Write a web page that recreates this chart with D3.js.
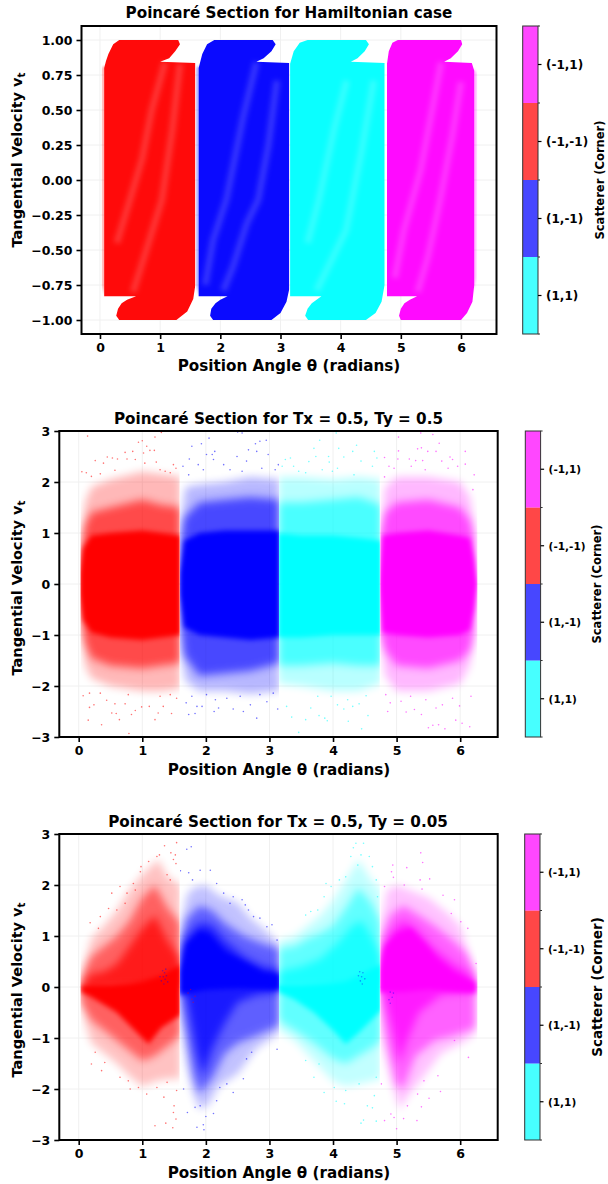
<!DOCTYPE html>
<html><head><meta charset="utf-8">
<script src="https://cdn.jsdelivr.net/npm/d3@7"></script>
<style>html,body{margin:0;padding:0;background:#fff}svg{display:block}text{font-family:"DejaVu Sans",sans-serif;font-weight:bold;fill:#000}</style>
</head><body><svg id="c" width="608" height="1184"></svg>
<script>
const corners = ["(1,1)","(1,-1)","(-1,-1)","(-1,1)"];
const cornerColors = ["#00ffff","#0000ff","#ff0000","#ff00ff"];
const seriesOrder = ["red","blue","cyan","magenta"];
const seriesColors = ["#ff0000","#0000ff","#00ffff","#ff00ff"];
const seriesRanges = [[.03,1.587],[1.595,3.15],[3.15,4.735],[4.745,6.27]];
const thetaTicks = [0,1,2,3,4,5,6];
const p1Ticks = [-1,-0.75,-0.5,-0.25,0,0.25,0.5,0.75,1];
const p23Ticks = [-3,-2,-1,0,1,2,3];

// Panel 1: region outlines [theta, v]
const p1Red = [[.07,.8],[.1,.85],[.14,.9],[.22,.97],[.32,1],[1.3,1],[1.33,.97],[1.25,.92],[1.15,.87],[1.0,.845],[1.585,.835],[1.585,-.75],[1.55,-.85],[1.45,-.94],[1.27,-1],[.32,-1],[.27,-.97],[.3,-.92],[.36,-.88],[.45,-.855],[.6,-.83],[.07,-.83]];
const p1Blue = [[1.64,.8],[1.67,.85],[1.7,.9],[1.78,.97],[1.9,1],[2.87,1],[2.92,.97],[2.85,.92],[2.72,.87],[2.6,.845],[3.145,.835],[3.145,-.78],[3.1,-.87],[3,-.95],[2.85,-1],[1.88,-1],[1.83,-.97],[1.85,-.92],[1.92,-.88],[2,-.855],[2.12,-.83],[1.64,-.83]];
const p1Cyan = [[3.16,.83],[3.22,.92],[3.32,.98],[3.45,1],[4.42,1],[4.47,.97],[4.4,.92],[4.28,.87],[4.17,.845],[4.73,.835],[4.73,-.75],[4.68,-.87],[4.58,-.95],[4.42,-1],[3.46,-1],[3.41,-.97],[3.45,-.92],[3.52,-.88],[3.6,-.855],[3.68,-.83],[3.16,-.83]];
const p1Magenta = [[4.77,.83],[4.8,.92],[4.86,.98],[4.95,1],[6,1],[6.02,.97],[5.95,.92],[5.83,.87],[5.72,.845],[6.18,.835],[6.22,.78],[6.22,-.75],[6.19,-.87],[6.1,-.95],[6,-1],[5,-1],[4.97,-.97],[5,-.92],[5.06,-.88],[5.15,-.855],[5.27,-.83],[4.77,-.83]];
const p1Fuzz = [
 [[.03,.8],[.08,.82],[.08,-.83],[.03,-.75]],
 [[1.6,.8],[1.65,.82],[1.65,-.83],[1.6,-.75]],
 [],
 [[6.21,.8],[6.26,.76],[6.25,-.7],[6.21,-.8]]];
const p1StreaksRed = [[[1.08,.84],[.86,.5],[.7,.15],[.5,-.14],[.28,-.45]],[[1.33,.83],[1.2,.35],[1.03,-.14],[.72,-.57],[.55,-.8]]];
const p1StreaksBlue = [[[2.6,.84],[2.38,.45],[2.1,-.14],[1.88,-.43],[1.75,-.75]],[[2.94,.71],[2.8,.25],[2.63,-.14],[2.44,-.31],[2.21,-.62],[2.05,-.79]]];
const p1StreaksCyan = [[[4.1,.71],[3.89,.36],[3.64,-.14],[3.45,-.45]],[[4.55,.71],[4.35,.21],[4.09,-.36],[3.77,-.64],[3.6,-.79]]];
const p1StreaksMagenta = [[[5.67,.84],[5.52,.5],[5.33,.07],[5.05,-.36],[4.9,-.7]],[[6.0,.7],[5.85,.3],[5.65,-.15],[5.45,-.55],[5.28,-.8]]];

// Panel 2: density regions, [sparse, middle, core]
const p2Red = [
 [[.03,.8],[.1,1.6],[.2,1.9],[.5,2.05],[1,2.2],[1.3,2.15],[1.6,2.1],[1.6,-2.05],[1.3,-2.1],[1,-2.1],[.5,-2],[.2,-1.85],[.1,-1.6],[.03,-.8]],
 [[.02,.5],[.1,1.15],[.2,1.4],[.5,1.5],[1,1.65],[1.3,1.55],[1.6,1.5],[1.6,-1.55],[1.3,-1.6],[1,-1.65],[.5,-1.6],[.2,-1.45],[.1,-1.15],[.02,-.5]],
 [[.02,.2],[.07,.7],[.2,.95],[.5,1],[1,1.05],[1.3,1],[1.6,.95],[1.6,-1],[1.3,-1.05],[1,-1.1],[.5,-1.05],[.2,-.95],[.07,-.7],[.02,-.2]]];
const p2Blue = [
 [[1.6,1.2],[1.68,1.9],[1.9,1.95],[2.3,2],[2.7,2.1],[3.16,2.05],[3.16,-2.1],[2.7,-2.15],[2.3,-2.1],[1.9,-2.1],[1.68,-1.9],[1.6,-1.3]],
 [[1.6,.8],[1.66,1.3],[1.9,1.6],[2.3,1.65],[2.7,1.7],[3.16,1.65],[3.16,-1.55],[2.7,-1.7],[2.3,-1.75],[1.9,-1.8],[1.66,-1.4],[1.6,-.8]],
 [[1.59,.2],[1.66,.85],[1.9,1],[2.3,1.05],[2.7,1.05],[3.16,1.05],[3.16,-1.05],[2.7,-1.1],[2.3,-1.05],[1.9,-1],[1.66,-.85],[1.59,-.2]]];
const p2Cyan = [
 [[3.14,2.1],[3.5,2.1],[4,2.05],[4.4,2.1],[4.76,2.05],[4.76,-1.95],[4.4,-2.1],[4,-2.1],[3.5,-2],[3.14,-1.95]],
 [[3.14,1.6],[3.5,1.6],[4,1.65],[4.4,1.7],[4.76,1.55],[4.76,-1.6],[4.4,-1.6],[4,-1.55],[3.5,-1.6],[3.14,-1.6]],
 [[3.14,1],[3.5,.95],[4,.95],[4.4,.9],[4.76,.85],[4.76,-1],[4.4,-1],[4,-1],[3.5,-1.05],[3.14,-1.05]]];
const p2Magenta = [
 [[4.74,1],[4.82,1.9],[5,2.1],[5.5,2.1],[6,2],[6.15,1.7],[6.22,1.2],[6.22,-1.1],[6.15,-1.6],[6,-1.95],[5.5,-2.1],[5,-2.1],[4.82,-1.8],[4.74,-1]],
 [[4.74,.9],[4.82,1.4],[5,1.6],[5.5,1.65],[6,1.5],[6.15,1.25],[6.22,.9],[6.22,-.9],[6.15,-1.3],[6,-1.5],[5.5,-1.65],[5,-1.6],[4.82,-1.3],[4.74,-.9]],
 [[4.73,.1],[4.78,.95],[5,1],[5.5,1.05],[6,.95],[6.15,.9],[6.22,.5],[6.27,0],[6.22,-.5],[6.15,-.9],[6,-1],[5.5,-1.05],[5,-1],[4.78,-.95],[4.73,-.1]]];

// Panel 3: density regions, [sparse, middle, dense, solid]
const p3Red = [
 [[.03,.1],[.1,.5],[.2,.95],[.4,1.2],[.6,1.5],[.8,1.9],[1,2.2],[1.25,2.5],[1.4,2.15],[1.6,2],[1.6,-1.8],[1.4,-1.8],[1.2,-1.85],[1,-1.95],[.8,-1.75],[.6,-1.5],[.4,-1.3],[.2,-1.1],[.1,-.7],[.03,-.1]],
 [[.03,.05],[.1,.35],[.2,.6],[.4,.8],[.6,1],[.8,1.3],[1,1.75],[1.2,2],[1.4,1.55],[1.6,1.25],[1.6,-.95],[1.4,-1.15],[1.2,-1.35],[1,-1.45],[.8,-1.25],[.6,-1.05],[.4,-.85],[.2,-.65],[.03,-.3]],
 [[.08,.1],[.2,.25],[.4,.3],[.6,.45],[.8,.8],[1,1.15],[1.2,1.4],[1.4,.9],[1.6,.55],[1.6,0],[.08,0]],
 [[.04,.02],[.2,.05],[.5,.05],[.8,.08],[1,.12],[1.3,.22],[1.6,.45],[1.6,-.55],[1.3,-.8],[1.1,-1.12],[1,-1],[.8,-.75],[.6,-.5],[.4,-.35],[.2,-.2],[.04,-.1]]];
const p3Blue = [
 [[1.6,1.2],[1.7,1.8],[1.8,1.95],[2,2],[2.2,1.8],[2.5,1.65],[2.7,1.35],[2.9,1.15],[3.16,.85],[3.16,-.9],[2.8,-1.2],[2.5,-1.7],[2.2,-1.95],[2.05,-2.3],[1.9,-2.4],[1.8,-2.1],[1.7,-1.5],[1.6,-.6]],
 [[1.6,.9],[1.7,1.35],[1.9,1.6],[2.1,1.5],[2.3,1.25],[2.6,1],[2.9,.85],[3.16,.75],[3.16,-.75],[2.8,-.95],[2.5,-1.1],[2.3,-1.3],[2.1,-1.8],[1.9,-2.1],[1.8,-1.75],[1.7,-1],[1.6,-.3]],
 [[1.6,.7],[1.7,1],[1.9,1.25],[2.1,1.2],[2.3,.9],[2.6,.6],[2.9,.4],[3.16,.35],[3.16,-.1],[2.8,-.15],[2.5,-.3],[2.3,-.7],[2.1,-1.2],[1.95,-1.75],[1.85,-1.25],[1.7,-.2],[1.6,-.1]],
 [[1.6,.3],[1.7,.85],[1.9,1.1],[2.05,1.05],[2.3,.7],[2.6,.5],[2.9,.3],[3.16,.25],[3.16,-.06],[2.5,-.03],[2,-.06],[1.6,-.15]]];
const p3Cyan = [
 [[3.14,.9],[3.4,1],[3.6,1.2],[3.8,1.4],[4,1.7],[4.2,2.1],[4.4,2.5],[4.6,2.1],[4.76,1.9],[4.76,-1.8],[4.6,-1.85],[4.4,-1.9],[4.2,-1.95],[4,-1.85],[3.7,-1.45],[3.4,-1.05],[3.14,-.85]],
 [[3.14,.75],[3.4,.8],[3.6,.95],[3.8,1.05],[4,1.2],[4.2,1.55],[4.4,1.95],[4.6,1.65],[4.76,1.25],[4.76,-1.05],[4.6,-1.2],[4.4,-1.35],[4.2,-1.5],[4,-1.4],[3.7,-1.1],[3.4,-.85],[3.14,-.65]],
 [[3.14,.3],[3.5,.4],[3.8,.55],[4.1,.9],[4.3,1.2],[4.45,1.3],[4.6,1],[4.76,.6],[4.76,0],[3.14,0]],
 [[3.14,.05],[3.5,.05],[3.9,.08],[4.2,.12],[4.4,.22],[4.76,.46],[4.76,-.45],[4.6,-.65],[4.4,-.9],[4.2,-1.12],[4,-.85],[3.7,-.5],[3.4,-.25],[3.14,-.1]]];
const p3Magenta = [
 [[4.74,1.2],[4.85,1.9],[5,2],[5.2,1.9],[5.5,1.75],[5.8,1.45],[6,1.2],[6.15,.6],[6.24,.3],[6.24,-.9],[6.1,-1.05],[5.7,-1.3],[5.4,-1.8],[5.2,-2.1],[5.05,-2.4],[4.9,-1.8],[4.74,-.9]],
 [[4.74,.9],[4.9,1.4],[5.1,1.6],[5.3,1.45],[5.6,1.2],[5.9,.9],[6.1,.65],[6.24,.25],[6.24,-.8],[5.9,-.95],[5.6,-1.05],[5.3,-1.35],[5.1,-2],[5,-1.9],[4.85,-1.1],[4.74,-.3]],
 [[4.74,.6],[4.9,1.05],[5.1,1.3],[5.3,1.15],[5.6,.75],[5.9,.45],[6.1,.3],[6.24,.12],[6.24,-.1],[5.7,-.15],[5.35,-.5],[5.15,-1.1],[5.05,-1.5],[4.95,-.9],[4.8,-.1],[4.74,-.1]],
 [[4.74,.3],[4.82,.8],[5,1.05],[5.22,1.15],[5.45,.85],[5.65,.55],[5.9,.3],[6.24,.08],[6.24,-.12],[6,-.1],[5.5,-.05],[5.1,-.1],[4.74,-.1]]];

// Individually read points, [theta, v]
const p2RedPts = [[.14,2.9],[.94,2.78],[1,2.81],[1.07,2.7],[1.2,2.88],[1.3,2.97],[.05,2.2],[.12,2.18],[.26,2.42],[.45,2.49],[.53,2.47],[.61,2.45],[.73,2.58],[.85,2.6],[.76,2.45],[.89,2.44],[1.02,2.57],[1.12,2.62],[1.19,2.62],[1.22,2.39],[1.04,2.37],[1.28,2.24],[1.36,2.21],[1.44,2.18],[1.49,2.34],[1.53,2.27],[.57,2.23],[.34,2.16],[.2,2.11],[.39,2.37],[.79,-2.93],[.15,-2.67],[.36,-2.76],[.64,-2.66],[1.2,-2.66],[.83,-2.56],[.52,-2.53],[.59,-2.54],[1.25,-2.53],[1.46,-2.54],[.17,-2.42],[.89,-2.48],[.99,-2.41],[1.11,-2.4],[.73,-2.35],[.57,-2.35],[1.33,-2.4],[.24,-2.37],[.07,-2.19],[.44,-2.28],[1.28,-2.2],[1.54,-2.24],[1.44,-2.17],[.17,-2.14],[.34,-2.14],[.78,-2.17]];
const p2BluePts = [[2.5,2.98],[2.57,2.96],[1.78,2.7],[1.93,2.75],[2.05,2.86],[2.14,2.6],[2.1,2.54],[2.01,2.54],[2.78,2.75],[2.85,2.8],[2.95,2.82],[2.67,2.63],[2.8,2.6],[2.98,2.54],[1.64,2.31],[1.74,2.45],[1.88,2.34],[2.28,2.34],[2.49,2.5],[2.64,2.41],[2.38,2.24],[2.88,2.27],[3.09,2.24],[3.14,2.34],[2.12,2.44],[1.96,2.24],[1.73,2.14],[2.57,2.21],[2.8,-2.63],[1.73,-2.56],[1.83,-2.54],[1.94,-2.4],[1.86,-2.4],[2.13,-2.5],[2.2,-2.43],[2.43,-2.45],[2.59,-2.5],[2.7,-2.37],[2.96,-2.31],[3.13,-2.45],[1.69,-2.33],[1.78,-2.2],[2.15,-2.27],[2.33,-2.24],[2.54,-2.2],[2.85,-2.17],[3.06,-2.14],[2.01,-2.17]];
const p2CyanPts = [[3.7,2.66],[3.79,2.82],[4.05,2.96],[4.09,2.66],[4.37,2.72],[4.31,2.6],[4.17,2.49],[3.94,2.39],[3.93,2.5],[3.73,2.5],[3.62,2.4],[4.65,2.6],[4.69,2.47],[4.44,2.41],[4.07,2.27],[3.83,2.24],[3.57,2.18],[4.62,2.31],[4.33,2.14],[3.99,2.21],[3.25,2.44],[3.33,2.47],[3.38,2.31],[3.2,2.31],[3.46,2.21],[4.45,-2.84],[4.24,-2.69],[4.55,-2.58],[3.87,-2.63],[3.91,-2.68],[3.78,-2.58],[4.17,-2.45],[3.65,-2.43],[4.41,-2.35],[4.07,-2.37],[4.31,-2.4],[4.52,-2.19],[3.76,-2.2],[4.23,-2.27],[3.57,-2.66],[3.97,-2.2],[3.35,-2.61],[3.46,-2.91],[3.27,-2.4]];
const p2MagentaPts = [[5.03,2.88],[5.38,2.96],[5.57,2.93],[5.67,2.76],[5.33,2.65],[5.39,2.67],[5.03,2.61],[4.81,2.48],[5.02,2.45],[5.2,2.45],[5.3,2.42],[5.41,2.42],[5.62,2.6],[5.49,2.6],[5.84,2.49],[5.88,2.44],[6.08,2.6],[6.08,2.35],[5.96,2.31],[5.71,2.41],[5.23,2.31],[4.96,2.27],[4.88,2.31],[6.22,2.14],[6.2,1.85],[5.81,2.27],[5.45,2.24],[4.81,2.1],[5.5,-2.82],[5.57,-2.77],[5.66,-2.76],[5.76,-2.84],[6.15,-2.8],[6.03,-2.73],[5.93,-2.67],[4.86,-2.5],[4.9,-2.33],[5.15,-2.51],[5.39,-2.56],[5.62,-2.43],[5.28,-2.46],[5.99,-2.39],[5.72,-2.37],[5.07,-2.3],[5.46,-2.27],[5.88,-2.24],[6.17,-2.2],[4.83,-2.17],[5.22,-2.2]];
const p3RedPts = [[1.54,2.83],[1.35,2.77],[1.45,2.63],[1.52,2.59],[1.49,2.5],[1.53,2.42],[1.23,2.56],[1.27,2.59],[1.1,2.46],[.98,2.36],[.97,2.26],[.65,1.97],[.34,1.38],[.18,1.26],[.52,1.84],[.76,1.84],[.89,1.9],[.47,1.54],[.31,1.15],[.6,1.51],[.73,1.64],[.86,2.03],[1.39,2.2],[1.44,2.1],[1.2,-2.72],[1.37,-2.67],[1.48,-2.76],[1.53,-2.59],[1.49,-2.46],[1.5,-2.33],[1.34,-2.16],[.2,-1.51],[.36,-1.64],[.81,-2],[.94,-1.97],[1.07,-2.1],[1.23,-1.97],[1.54,-2.03],[.65,-1.77],[.41,-1.48],[.26,-1.28],[.78,-1.84],[1.39,-1.87]];
const p3BluePts = [[1.77,2.75],[1.7,2.7],[1.6,2.28],[1.73,2.24],[1.91,2.29],[2.07,2.29],[1.79,2.1],[2.17,2.03],[2.57,1.71],[2.62,1.61],[2.43,1.77],[2.28,1.84],[2.75,1.38],[2.85,1.35],[3.04,1.22],[2.96,1.18],[2.67,1.51],[2.38,1.64],[3.12,.92],[1.97,-2.8],[1.86,-2.75],[1.96,-2.7],[2,-2.54],[2.12,-2.48],[1.71,-2.46],[1.83,-2.36],[1.91,-2.33],[2.17,-2.23],[2.43,-2.07],[2.33,-1.9],[2.59,-1.8],[2.72,-1.28],[2.64,-1.41],[2.22,-1.97],[1.65,-2],[3.12,-1.22]];
const p3CyanPts = [[4.36,2.82],[4.48,2.82],[4.32,2.73],[4.44,2.59],[4.57,2.56],[4.28,2.56],[4.62,2.36],[4.39,2.39],[4.1,2.1],[3.89,2.03],[3.86,1.77],[3.76,1.51],[3.65,1.48],[4.68,2.1],[3.57,1.41],[3.97,1.97],[4.2,2.16],[4.7,1.77],[4.44,-2.67],[4.48,-2.61],[4.68,-2.63],[4.62,-2.37],[4.54,-2.33],[4.18,-2.29],[4.05,-2.24],[3.86,-2.07],[4.2,-2.03],[4.02,-1.97],[4.41,-1.9],[4.65,-2.13],[3.7,-1.77],[3.78,-1.51],[3.57,-1.44],[4.68,-1.77]];
const p3MagentaPts = [[5.38,2.63],[5.41,2.44],[4.94,2.39],[4.92,2.26],[5.16,2.34],[4.95,2.15],[5.37,2.1],[5.52,2.12],[5.12,2],[4.81,1.97],[5.4,1.92],[5.91,1.71],[5.73,1.8],[6.01,1.28],[6.12,1.15],[6.25,.46],[5.86,1.44],[5,-2.78],[4.96,-2.56],[5.11,-2.58],[4.81,-2.62],[5.32,-2.62],[4.91,-2.49],[5.39,-2.35],[5.51,-2.18],[5.69,-2.05],[5.65,-1.74],[6.13,-1.38],[5.43,-1.84],[5.33,-2.1],[4.76,-1.9],[5.91,-1.05],[5.17,-2.33]];
const p3BlueOverRed = [[1.33,.2],[1.3,.12],[1.36,.15],[1.35,.28],[1.38,.22],[1.32,.32],[1.4,.1],[1.28,.2],[1.37,.35],[1.34,.06]];
const p3RedOverBlue = [[1.78,-.24],[1.72,-.12],[1.8,-.3],[1.76,-.05],[1.83,-.18]];
const p3BlueOverCyan = [[4.45,.2],[4.43,.12],[4.47,.28],[4.42,.3],[4.5,.16],[4.46,.06],[4.4,.22]];
const p3BlueOverMagenta = [[4.9,-.1],[4.93,-.2],[4.88,-.25],[4.95,-.12],[4.9,-.32]];

const svg = d3.select("#c");
const defs = svg.append("defs");
function blur(id,sd){
  defs.append("filter").attr("id",id).attr("x","-15%").attr("y","-15%").attr("width","130%").attr("height","130%")
    .append("feGaussianBlur").attr("stdDeviation",sd);
}
blur("soft",4); blur("soft2",2.5); blur("soft1",1);

function drawPanel(cfg){
  const x = d3.scaleLinear().domain(cfg.xDomain).range([cfg.left,cfg.right]);
  const y = d3.scaleLinear().domain(cfg.yDomain).range([cfg.bottom,cfg.top]);
  const g = svg.append("g");
  const line = d3.line().x(d=>x(d[0])).y(d=>y(d[1]));
  g.append("g").selectAll("line").data(thetaTicks).join("line")
    .attr("x1",d=>x(d)).attr("x2",d=>x(d)).attr("y1",cfg.top).attr("y2",cfg.bottom).attr("stroke","#f0f0f0");
  g.append("g").selectAll("line").data(cfg.yTicks).join("line")
    .attr("y1",d=>y(d)).attr("y2",d=>y(d)).attr("x1",cfg.left).attr("x2",cfg.right).attr("stroke","#f0f0f0");
  seriesRanges.forEach((r,i)=>{
    defs.append("clipPath").attr("id",cfg.id+i).append("rect")
      .attr("x",x(r[0])).attr("width",x(r[1])-x(r[0])).attr("y",cfg.top).attr("height",cfg.bottom-cfg.top);
  });
  seriesOrder.forEach((s,i)=>{
    const sg = g.append("g").attr("clip-path",`url(#${cfg.id}${i})`);
    cfg.regions[i].forEach((poly,j)=>{
      sg.append("path").attr("d",line(poly)+"Z").attr("fill",seriesColors[i])
        .attr("opacity",cfg.levelOpacity[j]).attr("filter",cfg.levelFilter[j]);
    });
    if(cfg.fuzz && cfg.fuzz[i].length) sg.append("path").attr("d",line(cfg.fuzz[i])+"Z")
      .attr("fill",seriesColors[i]).attr("opacity",.35).attr("filter","url(#soft1)");
    (cfg.streaks?cfg.streaks[i]:[]).forEach(st=>{
      sg.append("path").attr("d",line(st)).attr("fill","none").attr("stroke","#fff")
        .attr("stroke-width",7).attr("stroke-opacity",.17).attr("filter","url(#soft2)");
    });
    sg.append("g").selectAll("circle").data(cfg.points?cfg.points[i]:[]).join("circle")
      .attr("cx",d=>x(d[0])).attr("cy",d=>y(d[1])).attr("r",.8).attr("fill",seriesColors[i]).attr("opacity",.55);
  });
  (cfg.extras||[]).forEach(e=>{
    g.append("g").selectAll("circle").data(e.pts).join("circle")
      .attr("cx",d=>x(d[0])).attr("cy",d=>y(d[1])).attr("r",.8).attr("fill",e.color).attr("opacity",.4);
  });
  const ax = g.append("g").attr("transform",`translate(0,${cfg.bottom})`)
    .call(d3.axisBottom(x).tickValues(thetaTicks).tickFormat(d3.format("d")).tickSize(5).tickPadding(4));
  const ay = g.append("g").attr("transform",`translate(${cfg.left},0)`)
    .call(d3.axisLeft(y).tickValues(cfg.yTicks).tickFormat(cfg.yFormat).tickSize(5).tickPadding(4));
  [ax,ay].forEach(a=>{
    a.select(".domain").remove();
    a.selectAll("line").attr("stroke","#000").attr("stroke-width",1.6);
    a.selectAll("text").attr("font-size",cfg.tickSize).attr("font-family","DejaVu Sans").attr("font-weight","bold").attr("fill","#000");
  });
  g.append("rect").attr("x",cfg.left).attr("y",cfg.top).attr("width",cfg.right-cfg.left).attr("height",cfg.bottom-cfg.top)
    .attr("fill","none").attr("stroke","#000").attr("stroke-width",2);
  g.append("text").attr("x",cfg.titleX).attr("y",cfg.titleY).attr("text-anchor","middle").attr("font-size",cfg.titleSize).text(cfg.title);
  g.append("text").attr("x",cfg.xLabelX).attr("y",cfg.xLabelY).attr("text-anchor","middle").attr("font-size",cfg.labelSize).text("Position Angle θ (radians)");
  const yl = g.append("text").attr("transform",`translate(${cfg.yLabelX},${cfg.yLabelY}) rotate(-90)`).attr("text-anchor","middle").attr("font-size",cfg.yLabelSize);
  yl.append("tspan").text("Tangential Velocity v");
  yl.append("tspan").attr("dy",3).attr("font-size",cfg.yLabelSize*.72).text("t");
  const cb = d3.scaleBand().domain(corners).range([cfg.bottom,cfg.top]);
  const cbg = g.append("g");
  cbg.selectAll("rect").data(corners).join("rect")
    .attr("x",cfg.cbX).attr("width",cfg.cbW).attr("y",d=>cb(d)).attr("height",cb.bandwidth())
    .attr("fill",(d,i)=>cornerColors[i]).attr("opacity",.72);
  cbg.append("rect").attr("x",cfg.cbX).attr("width",cfg.cbW).attr("y",cfg.top).attr("height",cfg.bottom-cfg.top)
    .attr("fill","none").attr("stroke","#333").attr("stroke-width",1);
  const edges = corners.map(c=>cb(c)).concat([cfg.bottom]);
  cbg.selectAll(".e").data(edges).join("line").attr("class","e")
    .attr("x1",cfg.cbX+cfg.cbW).attr("x2",cfg.cbX+cfg.cbW+2).attr("y1",d=>d).attr("y2",d=>d).attr("stroke","#333");
  corners.forEach(c=>{
    const yy = cb(c)+cb.bandwidth()/2;
    cbg.append("line").attr("x1",cfg.cbX+cfg.cbW).attr("x2",cfg.cbX+cfg.cbW+3.5).attr("y1",yy).attr("y2",yy).attr("stroke","#000").attr("stroke-width",1.2);
    cbg.append("text").attr("x",cfg.cbX+cfg.cbW+8).attr("y",yy).attr("dy","0.36em").attr("font-size",cfg.cbTick).text(c);
  });
  cbg.append("text").attr("transform",`translate(${cfg.cbLabelX},${(cfg.top+cfg.bottom)/2}) rotate(-90)`)
    .attr("text-anchor","middle").attr("font-size",cfg.cbLabel).text("Scatterer (Corner)");
}

drawPanel({id:"p1",left:81.5,right:496.5,top:26,bottom:334,xDomain:[-.307,6.59],yDomain:[-1.1,1.1],yTicks:p1Ticks,yFormat:d3.format(".2f"),
  regions:[[p1Red],[p1Blue],[p1Cyan],[p1Magenta]],levelOpacity:[.96],levelFilter:[null],fuzz:p1Fuzz,
  streaks:[p1StreaksRed,p1StreaksBlue,p1StreaksCyan,p1StreaksMagenta],
  title:"Poincaré Section for Hamiltonian case",titleX:289,titleY:18,titleSize:15.2,
  xLabelX:289,xLabelY:371,yLabelX:22,yLabelY:160,labelSize:15.2,yLabelSize:14.5,tickSize:12.5,
  cbX:522.7,cbW:15.3,cbTick:12,cbLabel:11.5,cbLabelX:604});
drawPanel({id:"p2",left:59.3,right:497.7,top:431,bottom:737,xDomain:[-.305,6.59],yDomain:[-3,3],yTicks:p23Ticks,yFormat:d3.format("d"),
  regions:[p2Red,p2Blue,p2Cyan,p2Magenta],levelOpacity:[.28,.6,1],levelFilter:["url(#soft)","url(#soft)","url(#soft2)"],
  points:[p2RedPts,p2BluePts,p2CyanPts,p2MagentaPts],
  title:"Poincaré Section for Tx = 0.5, Ty = 0.5",titleX:278.5,titleY:424,titleSize:15.2,
  xLabelX:279,xLabelY:775,yLabelX:22,yLabelY:588,labelSize:15.2,yLabelSize:14.5,tickSize:12.5,
  cbX:525.3,cbW:15.3,cbTick:10.5,cbLabel:11.5,cbLabelX:601});
drawPanel({id:"p3",left:59.3,right:497.7,top:834,bottom:1140,xDomain:[-.305,6.59],yDomain:[-3,3],yTicks:p23Ticks,yFormat:d3.format("d"),
  regions:[p3Red,p3Blue,p3Cyan,p3Magenta],levelOpacity:[.24,.5,.72,1],levelFilter:["url(#soft)","url(#soft)","url(#soft)","url(#soft2)"],
  points:[p3RedPts,p3BluePts,p3CyanPts,p3MagentaPts],
  extras:[{pts:p3BlueOverRed,color:"#0000ff"},{pts:p3RedOverBlue,color:"#ff0000"},{pts:p3BlueOverCyan,color:"#0000ff"},{pts:p3BlueOverMagenta,color:"#0000ff"}],
  title:"Poincaré Section for Tx = 0.5, Ty = 0.05",titleX:278,titleY:827,titleSize:15.2,
  xLabelX:279,xLabelY:1178,yLabelX:22,yLabelY:990,labelSize:15.2,yLabelSize:14.5,tickSize:12.5,
  cbX:524.7,cbW:15.3,cbTick:10.5,cbLabel:13.5,cbLabelX:602});
</script></body></html>
